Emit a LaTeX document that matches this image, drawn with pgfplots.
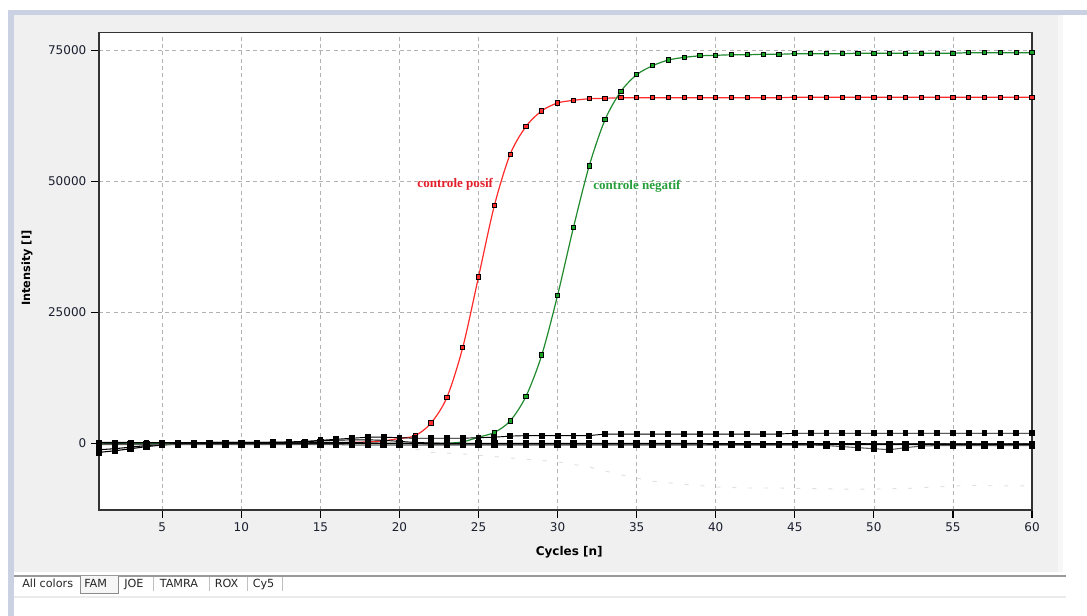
\documentclass[border=0pt]{standalone}
\usepackage{fontspec}
\setmainfont{DejaVu Sans}
\newfontfamily\annot{Liberation Serif}
\usepackage{pgfplots}
\pgfplotsset{compat=1.18}
\definecolor{bandblue}{HTML}{C9D1E3}
\definecolor{panel}{HTML}{F0F0F0}
\definecolor{posred}{HTML}{FF2A2A}
\definecolor{neggreen}{HTML}{1F8A2E}
\definecolor{txtred}{HTML}{E41E2B}
\definecolor{txtgreen}{HTML}{27A03C}
\definecolor{ticktxt}{HTML}{1A1F2E}
\begin{document}
\begin{tikzpicture}
\begin{scope}[x=0.75pt,y=0.75pt]
\useasboundingbox (0,0) rectangle (1087,616);
\fill[white] (0,0) rectangle (1087,616);
\fill[bandblue] (8,0) rectangle (14,606);
\fill[bandblue] (8,601) rectangle (1087,606);
\fill[panel] (14,44) rectangle (1058,601);
\fill[black!3] (1058,44) rectangle (1063,601);
\draw[black!40, line width=1.2pt] (14,40) -- (1066,40);
\draw[black!8, line width=1.5pt] (14,19) -- (1066,19);
% tabs
\draw[black!45, line width=0.6pt, fill=panel!60] (80,40) -- (80,23) -- (118,23) -- (118,40);
\begin{scope}[every node/.style={font=\fontsize{8.4}{10}\selectfont, anchor=base west, inner sep=0pt, text=black!85}]
\node at (22,28.5) {All colors};
\node at (84,28.5) {FAM};
\node at (124,28.5) {JOE};
\node at (159.5,28.5) {TAMRA};
\node at (214.5,28.5) {ROX};
\node at (252.5,28.5) {Cy5};
\end{scope}
\foreach \sx in {153.5,209.5,247.5,282.5} \draw[black!25, line width=0.6pt] (\sx,25) -- (\sx,39);
\end{scope}
\begin{axis}[
 at={(74.25pt,79.5pt)}, anchor=south west, scale only axis,
 width=699.75pt, height=358.3pt,
 xmin=1, xmax=60, ymin=-12700, ymax=78500,
 xtick={5,10,15,20,25,30,35,40,45,50,55,60},
 xticklabels={5,10,15,20,25,30,35,40,45,50,55,60},
 ytick={0,25000,50000,75000},
 yticklabels={0,25000,50000,75000},
 scaled y ticks=false, scaled x ticks=false,
 tick align=outside, tick pos=left, major tick length=6pt,
 tick style={black, line width=0.9pt},
 axis line style={black!80, line width=1.1pt},
 grid=major, major grid style={black!30, dash pattern=on 3pt off 2.5pt, line width=0.5pt},
 tick label style={font=\fontsize{9}{10}\selectfont, text=ticktxt},
 xlabel={Cycles [n]}, ylabel={Intensity [I]},
 xlabel style={at={(axis description cs:0.504,-0.088)}, anchor=center, font=\bfseries\fontsize{9}{10}\selectfont},
 ylabel style={at={(axis description cs:-0.077,0.506)}, anchor=center, font=\bfseries\fontsize{8.5}{10}\selectfont},
 axis background/.style={fill=white},
 mark size=1.6pt,
]
% faint series
\addplot[black!12, line width=0.7pt, dash pattern=on 3pt off 9pt] coordinates {
(18,0)(20,-500)(22,-1700)(24,-2000)(26,-2500)(28,-3000)(30,-3500)(32,-4500)(34,-6000)(36,-7200)(38,-7800)(40,-8300)(42,-8500)(44,-8500)(46,-8600)(48,-8700)(50,-8700)(52,-8600)(54,-8300)(56,-8000)(58,-8100)(60,-8100)};
% positive control
\addplot[posred, line width=0.9pt, smooth, mark=square*, mark options={fill=posred, draw=black, line width=0.7pt}] coordinates {
(1,0)(2,0)(3,0)(4,0)(5,0)(6,0)(7,0)(8,0)(9,0)(10,0)(11,0)(12,0)(13,0)(14,0)(15,0)(16,100)(17,200)(18,300)(19,500)(20,950)
(21,1500)(22,3900)(23,8800)(24,18300)(25,31800)(26,45400)(27,55200)(28,60500)(29,63500)(30,65000)
(31,65500)(32,65800)(33,65900)(34,66000)(35,66000)(36,66000)(37,66000)(38,66000)(39,66000)(40,66000)
(41,66000)(42,66000)(43,66000)(44,66000)(45,66100)(46,66100)(47,66100)(48,66100)(49,66100)(50,66100)
(51,66100)(52,66100)(53,66100)(54,66100)(55,66100)(56,66100)(57,66100)(58,66100)(59,66100)(60,66100)};
% negative control
\addplot[neggreen, line width=0.9pt, smooth, mark=square*, mark options={fill=neggreen!80!green, draw=black, line width=0.7pt}] coordinates {
(1,0)(2,0)(3,0)(4,0)(5,0)(6,0)(7,0)(8,0)(9,0)(10,0)(11,0)(12,0)(13,0)(14,0)(15,0)(16,0)(17,0)(18,0)(19,0)(20,0)
(21,0)(22,0)(23,50)(24,300)(25,1200)(26,2100)(27,4300)(28,9000)(29,16900)(30,28300)
(31,41200)(32,53000)(33,61800)(34,67200)(35,70400)(36,72100)(37,73200)(38,73700)(39,74000)(40,74100)
(41,74200)(42,74200)(43,74300)(44,74300)(45,74400)(46,74400)(47,74400)(48,74400)(49,74500)(50,74500)
(51,74500)(52,74500)(53,74500)(54,74500)(55,74500)(56,74600)(57,74600)(58,74600)(59,74600)(60,74600)};
% baseline samples
\addplot[black, line width=0.7pt, mark=square*, mark size=1.8pt] coordinates {
(1,100)(2,50)(3,100)(4,100)(5,100)(6,100)(7,150)(8,200)(9,200)(10,200)(11,200)(12,250)(13,300)(14,400)(15,600)(16,800)(17,1000)(18,1200)(19,1200)(20,1100)
(21,1000)(22,1000)(23,1000)(24,1000)(25,1100)(26,1200)(27,1400)(28,1500)(29,1500)(30,1500)
(31,1500)(32,1500)(33,1800)(34,1800)(35,1800)(36,1800)(37,1800)(38,1800)(39,1800)(40,1800)
(41,1800)(42,1800)(43,1800)(44,1800)(45,1950)(46,1950)(47,1950)(48,1950)(49,1950)(50,1950)
(51,1950)(52,1950)(53,1950)(54,1950)(55,1950)(56,1950)(57,1950)(58,1950)(59,1950)(60,1950)};
\addplot[black, line width=0.8pt, mark=square*, mark size=2pt] coordinates {
(1,-1700)(2,-1400)(3,-1000)(4,-600)(5,-300)(6,-100)(7,0)(8,100)(9,0)(10,0)(11,0)(12,0)(13,0)(14,0)(15,0)(16,0)(17,0)(18,0)(19,0)(20,0)
(21,0)(22,0)(23,0)(24,0)(25,0)(26,0)(27,0)(28,0)(29,0)(30,0)
(31,0)(32,0)(33,0)(34,0)(35,0)(36,0)(37,0)(38,0)(39,0)(40,-100)
(41,-100)(42,-100)(43,-100)(44,-100)(45,-100)(46,-100)(47,-100)(48,-100)(49,-100)(50,-100)
(51,-100)(52,-100)(53,-100)(54,-100)(55,-100)(56,-100)(57,-100)(58,-100)(59,-100)(60,-100)};
\addplot[black, line width=0.8pt, mark=square*, mark size=2pt] coordinates {
(1,-1200)(2,-1000)(3,-700)(4,-400)(5,-200)(6,0)(7,0)(8,0)(9,0)(10,100)(11,100)(12,100)(13,100)(14,100)(15,200)(16,200)(17,200)(18,100)(19,0)(20,0)
(21,0)(22,-100)(23,-100)(24,-100)(25,-100)(26,-100)(27,-100)(28,-100)(29,-100)(30,-100)
(31,-100)(32,-100)(33,-100)(34,-100)(35,-100)(36,-100)(37,-100)(38,-100)(39,-100)(40,-200)
(41,-200)(42,-200)(43,-200)(44,-200)(45,-200)(46,-200)(47,-200)(48,-200)(49,-200)(50,-200)
(51,-200)(52,-200)(53,-200)(54,-200)(55,-200)(56,-200)(57,-200)(58,-200)(59,-200)(60,-200)};
\addplot[black!65, line width=0.8pt, mark=square*, mark size=2pt, mark options={black}] coordinates {
(1,-200)(2,-200)(3,-200)(4,-200)(5,-200)(6,-200)(7,-200)(8,-200)(9,-200)(10,-200)(11,-200)(12,-200)(13,-200)(14,-200)(15,-200)(16,-200)(17,-300)(18,-300)(19,-300)(20,-300)
(21,-300)(22,-300)(23,-300)(24,-300)(25,-300)(26,-300)(27,-300)(28,-300)(29,-300)(30,-300)
(31,-300)(32,-300)(33,-300)(34,-300)(35,-300)(36,-300)(37,-300)(38,-300)(39,-300)(40,-300)
(41,-300)(42,-300)(43,-300)(44,-300)(45,-300)(46,-300)(47,-400)(48,-600)(49,-800)(50,-1000)
(51,-1200)(52,-800)(53,-500)(54,-400)(55,-400)(56,-400)(57,-400)(58,-400)(59,-400)(60,-400)};
\addplot[black, line width=0.7pt, mark=square*, mark size=1.8pt] coordinates {
(1,200)(2,200)(3,200)(4,150)(5,150)(6,150)(7,150)(8,200)(9,200)(10,200)(11,200)(12,200)(13,200)(14,300)(15,500)(16,600)(17,700)(18,700)(19,600)(20,400)
(21,200)(22,100)(23,0)(24,0)(25,0)(26,0)(27,0)(28,0)(29,0)(30,0)
(31,0)(32,0)(33,0)(34,0)(35,0)(36,0)(37,0)(38,0)(39,0)(40,0)
(41,0)(42,0)(43,0)(44,0)(45,0)(46,0)(47,0)(48,0)(49,0)(50,-100)
(51,-100)(52,-100)(53,-100)(54,-100)(55,-100)(56,-100)(57,-100)(58,-100)(59,-100)(60,-100)};
\node[text=txtred, font=\annot\bfseries\fontsize{9.8}{11}\selectfont] at (axis cs:23.53,49400) {controle posif};
\node[text=txtgreen, font=\annot\bfseries\fontsize{9.8}{11}\selectfont] at (axis cs:35.02,49000) {controle négatif};
\end{axis}
\end{tikzpicture}
\end{document}
